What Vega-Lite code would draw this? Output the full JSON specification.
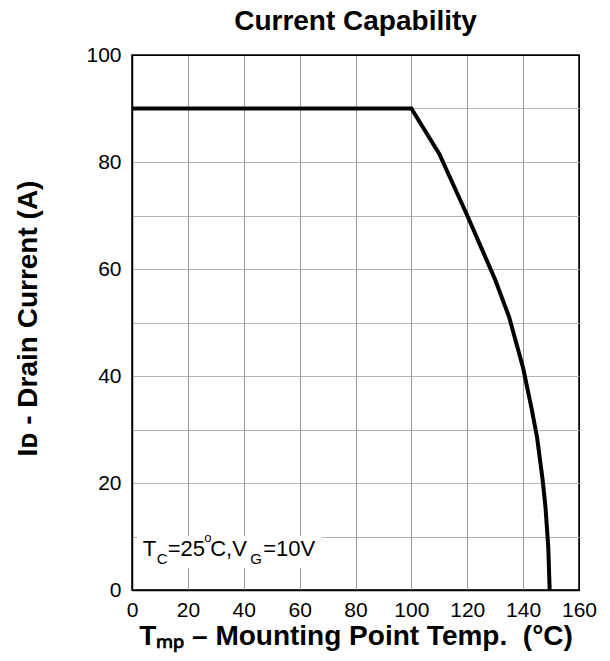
{
  "$schema": "https://vega.github.io/schema/vega-lite/v6.json",
  "width": 447,
  "height": 535,
  "autosize": {"type": "none"},
  "padding": {"left": 132, "top": 55, "right": 31, "bottom": 71},
  "background": "white",
  "config": {
    "font": "Liberation Sans",
    "view": {"stroke": "black", "strokeWidth": 1.5}
  },
  "title": {
    "text": "Current Capability",
    "font": "Liberation Sans",
    "fontSize": 28,
    "fontWeight": "bold",
    "color": "black",
    "anchor": "middle",
    "frame": "group",
    "baseline": "alphabetic",
    "offset": -14
  },
  "datasets": {
    "curve": [
      {"temp": 0, "current": 90},
      {"temp": 100, "current": 90},
      {"temp": 110, "current": 81.5},
      {"temp": 120, "current": 70},
      {"temp": 125, "current": 64},
      {"temp": 130, "current": 58},
      {"temp": 135, "current": 51},
      {"temp": 140, "current": 41.5},
      {"temp": 143, "current": 34},
      {"temp": 145, "current": 28.5},
      {"temp": 147, "current": 20.5},
      {"temp": 148, "current": 15.5},
      {"temp": 149, "current": 8},
      {"temp": 149.5, "current": 0}
    ],
    "note": [
      {"box_left": 1.8, "box_right": 67.9, "box_bottom": 4.1, "box_top": 10.1, "label_temp": 3.82, "label_current": 6.41}
    ]
  },
  "layer": [
    {
      "data": {"name": "curve"},
      "mark": {"type": "line", "stroke": "black", "strokeWidth": 4, "clip": true},
      "encoding": {
        "x": {
          "field": "temp",
          "type": "quantitative",
          "title": "Tₘₚ – Mounting Point Temp.\u00a0 (°C)",
          "scale": {"domain": [0, 160], "nice": false, "zero": false},
          "axis": {
            "values": [0, 10, 20, 30, 40, 50, 60, 70, 80, 90, 100, 110, 120, 130, 140, 150, 160],
            "labelExpr": "datum.value % 20 === 0 ? datum.label : ''",
            "labelFlush": false,
            "labelOverlap": false,
            "labelFont": "Liberation Sans",
            "labelFontSize": 21,
            "labelColor": "black",
            "labelPadding": 9,
            "ticks": false,
            "tickSize": 0,
            "domain": true,
            "domainColor": "black",
            "domainWidth": 1.5,
            "grid": true,
            "gridColor": {"condition": {"test": "datum.value === 0 || datum.value === 160", "value": "black"}, "value": "#999999"},
            "gridWidth": 1,
            "titleFont": "Liberation Sans",
            "titleFontSize": 28,
            "titleFontWeight": "bold",
            "titleColor": "black",
            "titleBaseline": "alphabetic",
            "titleY": 54
          }
        },
        "y": {
          "field": "current",
          "type": "quantitative",
          "title": "Iᴅ - Drain Current (A)",
          "scale": {"domain": [0, 100], "nice": false},
          "axis": {
            "values": [0, 10, 20, 30, 40, 50, 60, 70, 80, 90, 100],
            "labelExpr": "datum.value % 20 === 0 ? datum.label : ''",
            "labelFlush": false,
            "labelOverlap": false,
            "labelFont": "Liberation Sans",
            "labelFontSize": 21,
            "labelColor": "black",
            "labelPadding": 11,
            "ticks": false,
            "tickSize": 0,
            "domain": true,
            "domainColor": "black",
            "domainWidth": 1.5,
            "grid": true,
            "gridColor": {"condition": {"test": "datum.value === 0 || datum.value === 100", "value": "black"}, "value": "#b3b3b3"},
            "gridWidth": 1,
            "titleFont": "Liberation Sans",
            "titleFontSize": 28,
            "titleFontWeight": "bold",
            "titleColor": "black",
            "titleAngle": -90,
            "titleBaseline": "middle",
            "titleAlign": "center",
            "titleX": -104,
            "titleY": 263
          }
        }
      }
    },
    {
      "data": {"name": "note"},
      "mark": {"type": "rect", "fill": "white", "stroke": null},
      "encoding": {
        "x": {"field": "box_left", "type": "quantitative", "title": "Tₘₚ – Mounting Point Temp.\u00a0 (°C)"},
        "x2": {"field": "box_right"},
        "y": {"field": "box_bottom", "type": "quantitative", "title": "Iᴅ - Drain Current (A)"},
        "y2": {"field": "box_top"}
      }
    },
    {
      "data": {"name": "note"},
      "encoding": {
        "x": {"field": "label_temp", "type": "quantitative", "title": "Tₘₚ – Mounting Point Temp.\u00a0 (°C)"},
        "y": {"field": "label_current", "type": "quantitative", "title": "Iᴅ - Drain Current (A)"}
      },
      "layer": [
        {"mark": {"type": "text", "text": "T", "align": "left", "baseline": "alphabetic", "fontSize": 22, "font": "Liberation Sans", "color": "black", "dx": 0, "dy": 0}},
        {"mark": {"type": "text", "text": "C", "align": "left", "baseline": "alphabetic", "fontSize": 15, "font": "Liberation Sans", "color": "black", "dx": 14, "dy": 8}},
        {"mark": {"type": "text", "text": "=25", "align": "left", "baseline": "alphabetic", "fontSize": 22, "font": "Liberation Sans", "color": "black", "dx": 25, "dy": 0}},
        {"mark": {"type": "text", "text": "o", "align": "left", "baseline": "alphabetic", "fontSize": 13, "font": "Liberation Sans", "color": "black", "dx": 61.5, "dy": -13.5}},
        {"mark": {"type": "text", "text": "C,V", "align": "left", "baseline": "alphabetic", "fontSize": 22, "font": "Liberation Sans", "color": "black", "dx": 67.5, "dy": 0}},
        {"mark": {"type": "text", "text": "G", "align": "left", "baseline": "alphabetic", "fontSize": 15, "font": "Liberation Sans", "color": "black", "dx": 107.5, "dy": 8.5}},
        {"mark": {"type": "text", "text": "=10V", "align": "left", "baseline": "alphabetic", "fontSize": 22, "font": "Liberation Sans", "color": "black", "dx": 120.5, "dy": 0}}
      ]
    }
  ]
}
